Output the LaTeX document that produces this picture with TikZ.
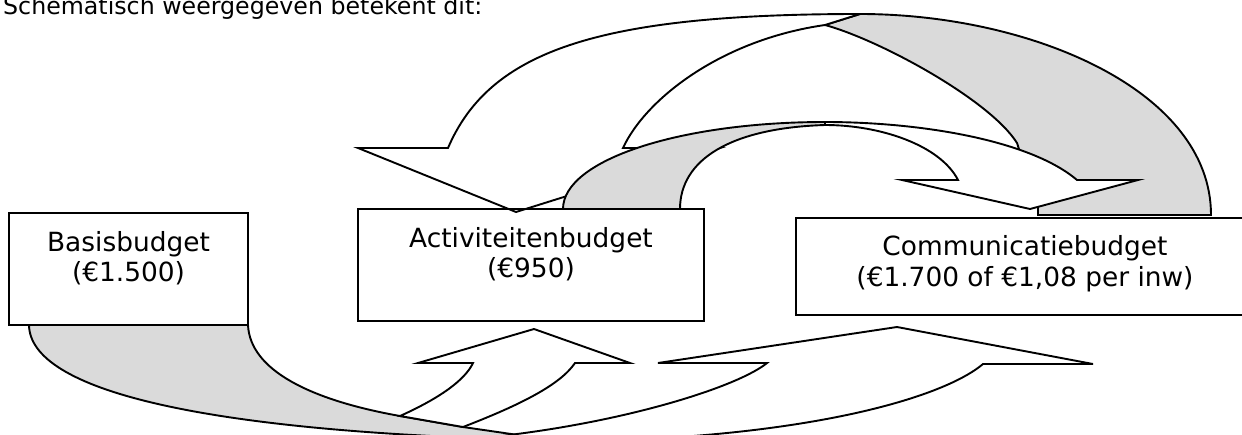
\documentclass[tikz,border=0pt]{standalone}
\usepackage{fontspec}
\setmainfont{DejaVu Sans}
\definecolor{backgray}{RGB}{218,218,218}
\tikzset{
  shp/.style={draw=black, line width=1.9pt, line join=miter},
  backface/.style={shp, fill=backgray},
  frontface/.style={shp, fill=white},
  budgetbox/.style={draw=black, line width=1.9pt, rectangle, inner sep=0pt},
  lbl/.style={font=\fontsize{26.4}{30}\selectfont, anchor=base, inner sep=0pt},
}
\begin{document}
\begin{tikzpicture}[x=1pt,y=-1pt]
\useasboundingbox (0,0) rectangle (1242,434);
\clip (0,0) rectangle (1242,434);

\node[anchor=base west, inner sep=0pt, font=\fontsize{23.7}{28}\selectfont] (intro) at (3,14) {Schematisch weergegeven betekent dit:};

% Arrow A (Communicatie -> Activiteiten): back face
\path[backface] (860,14) .. controls (1030,14) and (1211,90) .. (1211,215)
  -- (1038,215) -- (1038,207) -- (1017,143)
  .. controls (990,100) and (880,40) .. (825,25) -- cycle;
% Arrow A: front face and head
\path[frontface] (623,148) -- (720,148) -- (516,212) -- (358,148) -- (448,148)
  .. controls (490,50) and (600,14) .. (860,14)
  -- (825,25)
  .. controls (720,40) and (645,100) .. (623,148) -- cycle;

% Arrow B (Activiteiten -> Communicatie): back face
\path[backface] (563,209) -- (680,209)
  .. controls (680,160) and (730,128) .. (825,125)
  -- (825,122)
  .. controls (680,122) and (563,160) .. (563,209) -- cycle;
% Arrow B: front face and head
\path[frontface] (825,122) .. controls (920,122) and (1030,140) .. (1077,180)
  -- (1138,180) -- (1030,209) -- (902,180) -- (958,180)
  .. controls (940,145) and (880,125) .. (825,125) -- cycle;

% Arrow C (Basis -> Activiteiten): back face
\path[backface] (29,325) -- (248,325)
  .. controls (250,370) and (310,400) .. (400,416)
  -- (463,427) -- (525,436) -- (540,440)
  .. controls (200,432) and (30,390) .. (29,325) -- cycle;

% Arrow D (Basis -> Communicatie): front face and head
\path[frontface] (460,442) -- (517,434)
  .. controls (640,418) and (740,385) .. (767,363)
  -- (658,363) -- (897,327) -- (1093,364) -- (983,364)
  .. controls (950,392) and (850,425) .. (680,437)
  -- (640,442) -- cycle;

% Arrow C: front face and head
\path[frontface] (400,416) .. controls (440,398) and (465,380) .. (473,363)
  -- (418,363) -- (534,329) -- (630,363) -- (575,363)
  .. controls (560,385) and (520,405) .. (463,427) -- cycle;

% Boxes
\node[budgetbox, minimum width=239pt, minimum height=112pt] (basis) at (128.5,269) {};
\node[budgetbox, minimum width=346pt, minimum height=112pt] (activ) at (531,265) {};
\node[budgetbox, minimum width=464pt, minimum height=97pt] (comm) at (1028,266.5) {};

\node[lbl] (basisA) at (128.5,251) {Basisbudget};
\node[lbl] (basisB) at (128.5,281) {(€1.500)};
\node[lbl] (activA) at (531,247) {Activiteitenbudget};
\node[lbl] (activB) at (531,277) {(€950)};
\node[lbl] (commA) at (1025,255) {Communicatiebudget};
\node[lbl] (commB) at (1025,286) {(€1.700 of €1,08 per inw)};
\end{tikzpicture}
\end{document}
